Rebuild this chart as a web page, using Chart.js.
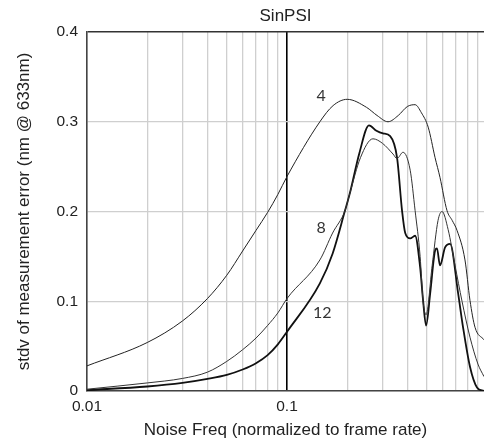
<!DOCTYPE html>
<html lang="en">
<head>
  <meta charset="UTF-8" />
  <title>SinPSI</title>
  <script src="https://cdn.jsdelivr.net/npm/chart.js"></script>
  <style>
    body { margin: 0; background: #fff; }
    canvas { display: block; }
  </style>
</head>
<body>
  <canvas id="chart" width="484" height="443"></canvas>
  <script>
    // curve "4"
    const freq4 = [0.01, 0.02, 0.03, 0.04, 0.05, 0.06, 0.07, 0.08, 0.09, 0.1, 0.146, 0.17, 0.2, 0.25, 0.282, 0.32, 0.36, 0.40, 0.437, 0.47, 0.508, 0.55, 0.582, 0.631, 0.67, 0.708, 0.776, 0.822, 0.871, 0.966];
    const stdv4 = [0.028, 0.054, 0.078, 0.103, 0.129, 0.156, 0.179, 0.199, 0.219, 0.239, 0.300, 0.318, 0.325, 0.316, 0.307, 0.300, 0.307, 0.317, 0.319, 0.310, 0.294, 0.260, 0.238, 0.201, 0.190, 0.179, 0.146, 0.101, 0.071, 0.057];

    // curve "8"
    const freq8 = [0.01, 0.02, 0.03, 0.04, 0.05, 0.06, 0.07, 0.08, 0.09, 0.1, 0.146, 0.169, 0.195, 0.206, 0.233, 0.269, 0.30, 0.339, 0.355, 0.38, 0.413, 0.437, 0.463, 0.479, 0.496, 0.532, 0.569, 0.596, 0.639, 0.692, 0.75, 0.822, 0.901, 0.966];
    const stdv8 = [0.002, 0.009, 0.014, 0.021, 0.033, 0.046, 0.059, 0.073, 0.087, 0.103, 0.146, 0.176, 0.201, 0.220, 0.260, 0.281, 0.276, 0.264, 0.259, 0.266, 0.246, 0.201, 0.150, 0.100, 0.085, 0.140, 0.190, 0.200, 0.180, 0.140, 0.100, 0.060, 0.030, 0.016];

    // curve "12"
    const freq12 = [0.01, 0.02, 0.03, 0.04, 0.05, 0.06, 0.07, 0.08, 0.09, 0.1, 0.146, 0.169, 0.195, 0.206, 0.23, 0.257, 0.28, 0.302, 0.328, 0.355, 0.376, 0.39, 0.413, 0.437, 0.463, 0.479, 0.496, 0.52, 0.551, 0.562, 0.582, 0.617, 0.654, 0.716, 0.759, 0.822, 0.891, 0.966];
    const stdv12 = [0.001, 0.005, 0.009, 0.0135, 0.018, 0.024, 0.031, 0.040, 0.052, 0.066, 0.120, 0.153, 0.201, 0.220, 0.265, 0.296, 0.290, 0.287, 0.284, 0.260, 0.201, 0.176, 0.170, 0.173, 0.138, 0.101, 0.073, 0.109, 0.157, 0.159, 0.140, 0.160, 0.164, 0.110, 0.071, 0.027, 0.004, 0.000];

    const xGridTicks = [0.01, 0.02, 0.03, 0.04, 0.05, 0.06, 0.07, 0.08, 0.09, 0.1, 0.2, 0.3, 0.4, 0.5, 0.6, 0.7, 0.8, 0.9];
    const xTickLabels = ['0.01', '0.1'];
    const yTickLabels = ['0', '0.1', '0.2', '0.3', '0.4'];

    const curveLabels = ['4', '8', '12'];
    const labelFreq = [0.148, 0.148, 0.15];
    const labelStdv = [0.329, 0.182, 0.087];

    function toPoints(xs, ys) {
      return xs.map((x, i) => ({ x: x, y: ys[i] }));
    }

    const FONT = "'Liberation Sans', Arial, sans-serif";

    // number labels next to the curves
    const curveLabelPlugin = {
      id: 'curveLabels',
      afterDatasetsDraw(chart) {
        const ctx = chart.ctx;
        const sx = chart.scales.x, sy = chart.scales.y;
        ctx.save();
        ctx.font = "16px Lato, 'Open Sans', sans-serif";
        ctx.fillStyle = '#333';
        ctx.textAlign = 'center';
        ctx.textBaseline = 'middle';
        curveLabels.forEach((t, i) => {
          ctx.fillText(t, sx.getPixelForValue(labelFreq[i]), sy.getPixelForValue(labelStdv[i]));
        });
        ctx.restore();
      }
    };

    new Chart(document.getElementById('chart'), {
      type: 'line',
      data: {
        datasets: [
          { label: '4', data: toPoints(freq4, stdv4), borderColor: '#222', borderWidth: 1 },
          { label: '8', data: toPoints(freq8, stdv8), borderColor: '#333', borderWidth: 1 },
          { label: '12', data: toPoints(freq12, stdv12), borderColor: '#111', borderWidth: 1.8 }
        ]
      },
      options: {
        responsive: false,
        animation: false,
        devicePixelRatio: 1,
        layout: { padding: 0 },
        elements: {
          point: { radius: 0 },
          line: { cubicInterpolationMode: 'monotone' }
        },
        plugins: {
          legend: { display: false },
          tooltip: { enabled: false },
          title: {
            display: true,
            fullSize: false,
            text: 'SinPSI',
            color: '#222',
            font: { family: FONT, size: 17, weight: 'normal' },
            padding: { top: 6.3, bottom: 5.3 }
          }
        },
        scales: {
          x: {
            type: 'logarithmic',
            min: 0.01,
            max: 0.966,
            afterBuildTicks(scale) {
              scale.ticks = xGridTicks.map(v => ({ value: v }));
            },
            afterFit(scale) { scale.height = 52; },
            ticks: {
              autoSkip: false,
              maxRotation: 0,
              padding: 6,
              color: '#222',
              font: { family: FONT, size: 15.5 },
              callback: (v) => {
                const s = xTickLabels.find(l => Math.abs(parseFloat(l) - v) < 1e-9);
                return s || '';
              }
            },
            grid: {
              drawTicks: false,
              color: (c) => (c.tick && Math.abs(c.tick.value - 0.1) < 1e-9) ? '#000' : '#cfcfcf',
              lineWidth: (c) => (c.tick && Math.abs(c.tick.value - 0.1) < 1e-9) ? 1.6 : 1.3
            },
            border: { color: '#444', width: 1.6 },
            title: {
              display: true,
              text: 'Noise Freq (normalized to frame rate)',
              color: '#222',
              font: { family: FONT, size: 17 },
              padding: { top: 2.8, bottom: 2.8 }
            }
          },
          y: {
            min: 0,
            max: 0.4,
            afterFit(scale) { scale.width = 87; },
            ticks: {
              stepSize: 0.1,
              padding: 9,
              color: '#222',
              font: { family: FONT, size: 15.5 },
              callback: (v, i) => yTickLabels[i]
            },
            grid: {
              drawTicks: false,
              color: (c) => (c.tick && Math.abs(c.tick.value - 0.4) < 1e-9) ? '#333' : '#cfcfcf',
              lineWidth: (c) => (c.tick && Math.abs(c.tick.value - 0.4) < 1e-9) ? 1.6 : 1.3
            },
            border: { color: '#444', width: 1.6 },
            title: {
              display: true,
              text: 'stdv of measurement error (nm @ 633nm)',
              color: '#222',
              font: { family: FONT, size: 17 },
              padding: { top: 13.8, bottom: 13.8 }
            }
          }
        }
      },
      plugins: [curveLabelPlugin]
    });
  </script>
</body>
</html>
